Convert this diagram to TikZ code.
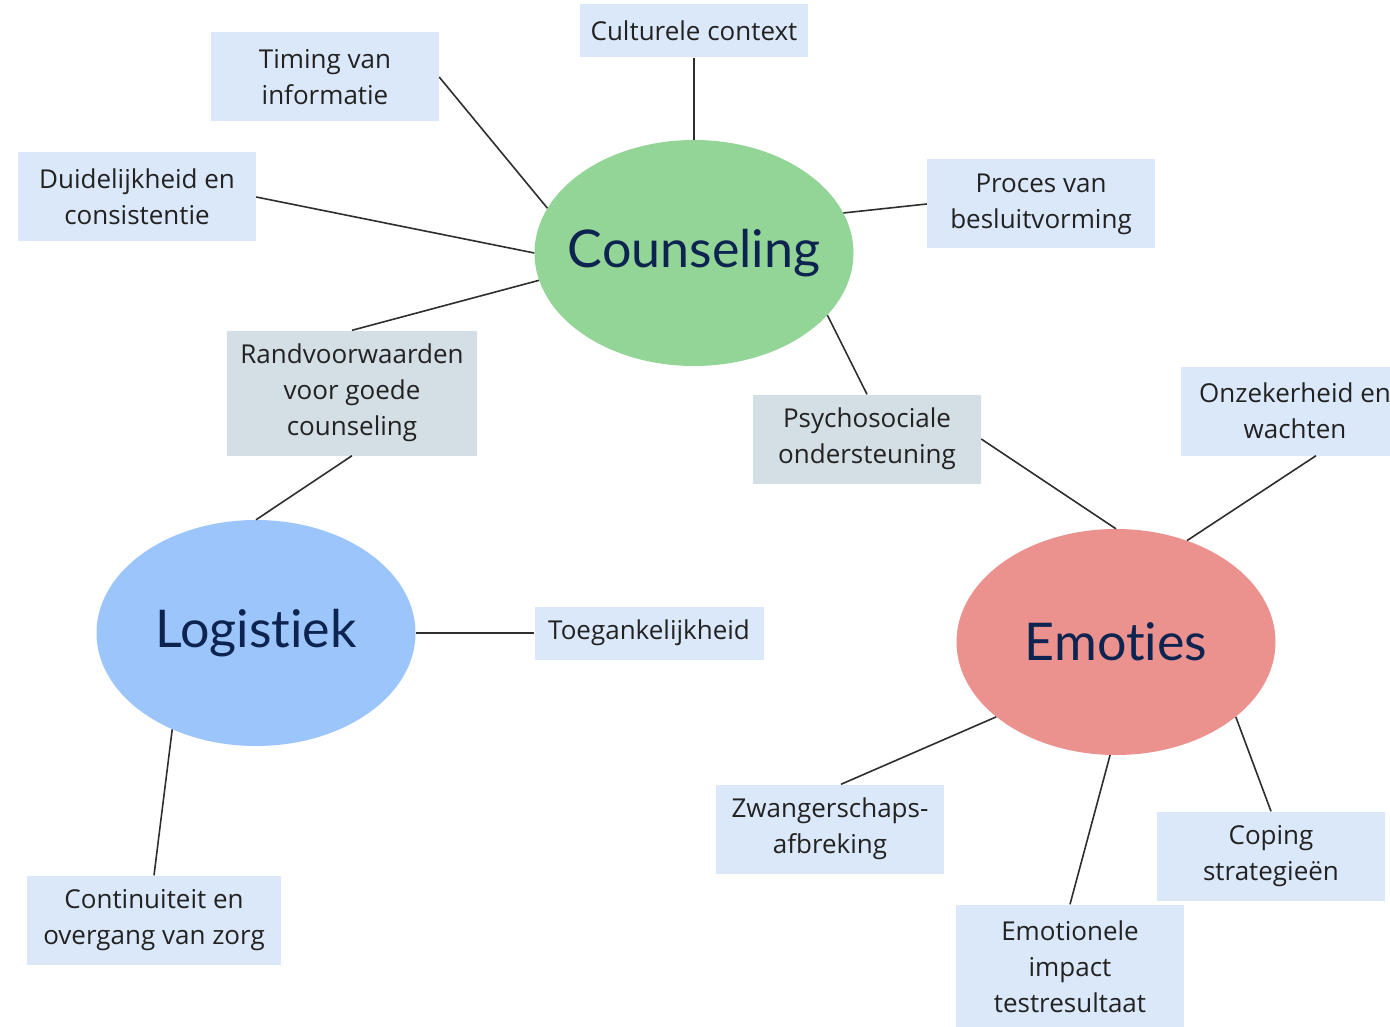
\documentclass[tikz,border=0pt]{standalone}
\usepackage{fontspec}
\setmainfont{Open Sans}
\newfontfamily\titlefont[Ligatures=NoCommon]{Lato}
\usetikzlibrary{shapes.geometric,calc}
\definecolor{boxblue}{HTML}{DAE8FA}
\definecolor{boxgray}{HTML}{D3DEE5}
\definecolor{elgreen}{HTML}{93D497}
\definecolor{elblue}{HTML}{9CC5FB}
\definecolor{elred}{HTML}{EB918E}
\definecolor{navy}{HTML}{0D2350}
\definecolor{linec}{HTML}{2E2E2E}
\definecolor{txt}{HTML}{222222}
\begin{document}
\begin{tikzpicture}[x=1pt,y=-1pt,
  topic/.style={rectangle, fill=boxblue, text=txt, font=\fontsize{26}{36}\selectfont, align=center, inner sep=0pt, minimum width=228pt, minimum height=89pt},
  greybox/.style={topic, fill=boxgray},
  hub/.style={ellipse, inner xsep=-40pt, inner ysep=0pt, minimum width=319pt, minimum height=226pt, text=navy, font=\titlefont\fontsize{52}{58}\selectfont},
  link/.style={draw=linec, line width=1.6pt}]
\useasboundingbox (0,0) rectangle (1390,1027);
\fill[white] (0,0) rectangle (1390,1027);

% hubs
\node[hub, fill=elgreen] (coun) at (694,253) {Counseling};
\node[hub, fill=elblue] (logi) at (256,633) {Logistiek};
\node[hub, fill=elred] (emo) at (1116,642) {Emoties};

% counseling topics
\node[topic, minimum height=53pt] (cult) at (694,31) {Culturele context};
\node[topic] (timing) at (325,77) {Timing van\\informatie};
\node[topic, minimum width=238pt] (duid) at (137,197) {Duidelijkheid en\\consistentie};
\node[topic] (proces) at (1041,204) {Proces van\\besluitvorming};
\node[greybox, minimum width=250pt, minimum height=125pt] (rand) at (352,393) {Randvoorwaarden\\voor goede\\counseling};
\node[greybox] (psy) at (867,439) {Psychosociale\\ondersteuning};

% logistiek topics
\node[topic, minimum height=53pt, minimum width=229pt] (toeg) at (649,633) {Toegankelijkheid};
\node[topic, minimum width=254pt] (cont) at (154,920) {Continuiteit en\\overgang van zorg};

% emoties topics
\node[topic] (onz) at (1295,411) {Onzekerheid en\\wachten};
\node[topic] (zwang) at (830,829) {Zwangerschaps-\\afbreking};
\node[topic] (coping) at (1271,856) {Coping\\strategieën};
\node[topic, minimum height=125pt] (emoimp) at (1070,967) {Emotionele\\impact\\testresultaat};

% connectors
\draw[link] (cult.south) -- (coun.north);
\draw[link] (timing.east) -- (coun.163.8);
\draw[link] (duid.east) -- (coun.west);
\draw[link] (proces.west) -- (coun.15);
\draw[link] (rand.north) -- (coun.190);
\draw[link] (psy.north) -- (coun.335.7);
\draw[link] (rand.south) -- (logi.north);
\draw[link] (psy.east) -- (emo.north);
\draw[link] ([xshift=21pt]onz.south) -- (emo.55.5);
\draw[link] (logi.east) -- (toeg.west);
\draw[link] (logi.229) -- (cont.north);
\draw[link] (emo.212.6) -- ([xshift=11pt]zwang.north);
\draw[link] (emo.267) -- (emoimp.north);
\draw[link] (emo.328) -- (coping.north);
\end{tikzpicture}
\end{document}
